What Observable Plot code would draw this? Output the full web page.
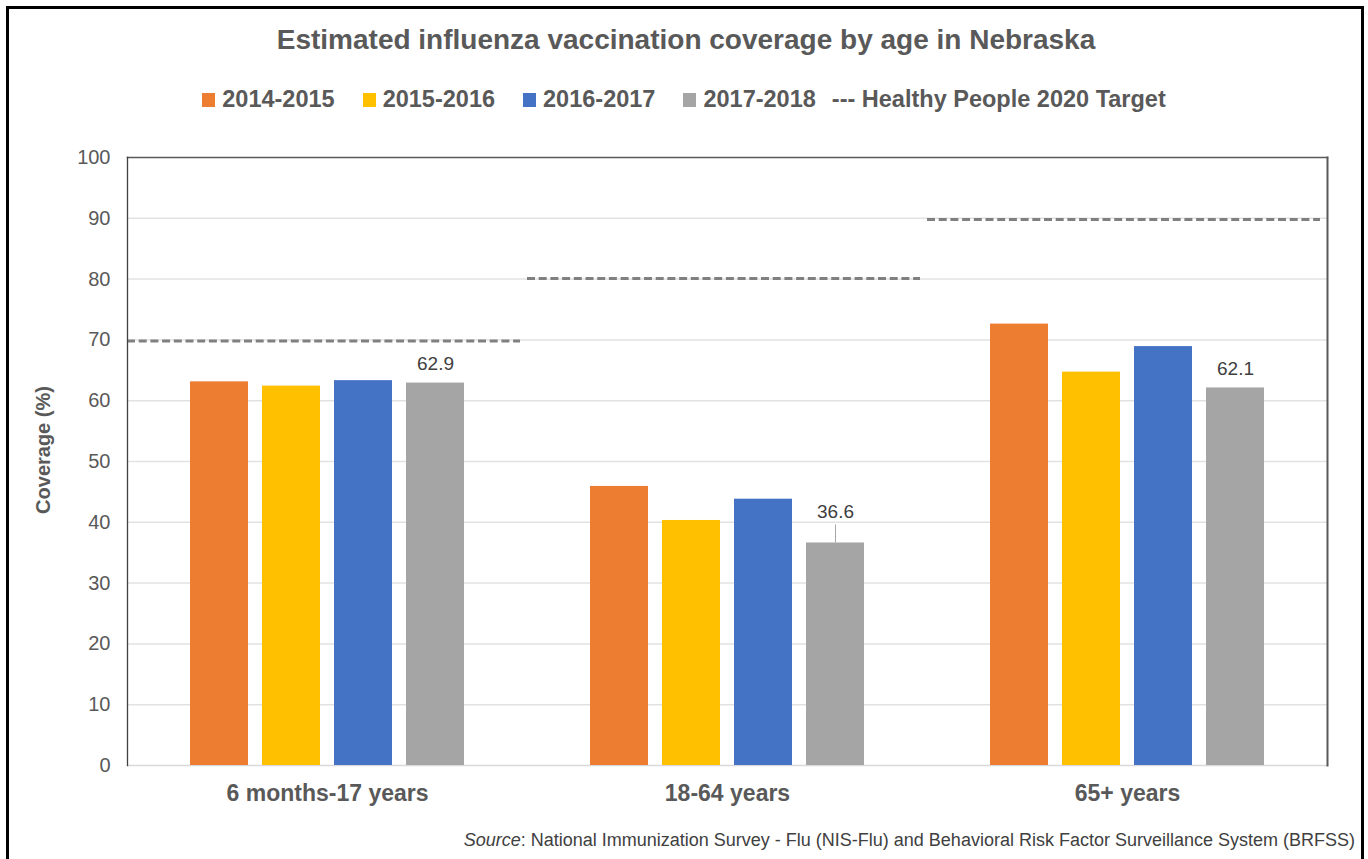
<!DOCTYPE html>
<html>
<head>
<meta charset="utf-8">
<script src="https://cdn.jsdelivr.net/npm/d3@7"></script>
<script src="https://cdn.jsdelivr.net/npm/@observablehq/plot@0.6"></script>
<style>
  html, body { margin: 0; padding: 0; background: #fff; overflow: hidden; width: 1368px; height: 859px; }
  body { font-family: Arial, "Liberation Sans", sans-serif; position: relative; }
  #border { position: absolute; left: 6px; top: 6px; width: 1358px; height: 900px; border: 3px solid #000; box-sizing: border-box; }
  #chart { position: absolute; left: 0; top: 0; }
  #title { position: absolute; left: 0; width: 1372px; top: 26px; text-align: center; font-size: 28px; line-height: 1; font-weight: bold; color: #595959; }
  #legend { position: absolute; left: 0; width: 1368px; top: 88px; display: flex; justify-content: center; align-items: center; font-size: 23.5px; line-height: 1; font-weight: bold; color: #595959; }
  .item { display: flex; align-items: center; margin: 0 14px; }
  .sw { width: 13px; height: 14px; margin-right: 7px; }
  #ylabel { position: absolute; left: 43px; top: 450px; transform: translate(-50%, -50%) rotate(-90deg); font-size: 20px; font-weight: bold; color: #595959; white-space: nowrap; line-height: 1; }
  #caption { position: absolute; right: 13px; top: 831px; font-size: 18px; line-height: 1; color: #404040; white-space: nowrap; }
</style>
</head>
<body>
<div id="border"></div>
<div id="chart"></div>
<div id="title"></div>
<div id="legend"></div>
<div id="ylabel"></div>
<div id="caption"></div>
<script>
// ---- data ----
const groups = ["6 months-17 years", "18-64 years", "65+ years"];
const seasons = ["2014-2015", "2015-2016", "2016-2017", "2017-2018"];
const v2014_2015 = [63.1, 45.9, 72.6];
const v2015_2016 = [62.4, 40.3, 64.7];
const v2016_2017 = [63.3, 43.8, 68.9];
const v2017_2018 = [62.9, 36.6, 62.1];
const targets = [69.8, 80.1, 89.8];
const seasonColors = ["#ED7D31", "#FFC000", "#4472C4", "#A5A5A5"];
const yTicks = [0, 10, 20, 30, 40, 50, 60, 70, 80, 90, 100];
const titleText = "Estimated influenza vaccination coverage by age in Nebraska";
const targetLabel = "--- Healthy People 2020 Target";
const yLabel = "Coverage (%)";
const sourceText = ": National Immunization Survey - Flu (NIS-Flu) and Behavioral Risk Factor Surveillance System (BRFSS)";

// ---- build tables ----
const seriesValues = [v2014_2015, v2015_2016, v2016_2017, v2017_2018];
const rows = [];
groups.forEach((g, gi) => seasons.forEach((s, si) => rows.push({group: g, season: s, value: seriesValues[si][gi]})));
const targetRows = groups.map((g, i) => ({group: g, value: targets[i]}));
const labeled = rows.filter(d => d.season === "2017-2018");
const labelNormal = labeled.filter(d => d.group !== "18-64 years");
const labelCallout = labeled.filter(d => d.group === "18-64 years");

// ---- html text ----
document.getElementById("title").textContent = titleText;
const legend = document.getElementById("legend");
seasons.forEach((s, i) => {
  const it = document.createElement("div"); it.className = "item";
  const sw = document.createElement("div"); sw.className = "sw"; sw.style.background = seasonColors[i];
  const tx = document.createElement("span"); tx.textContent = s;
  it.append(sw, tx); legend.append(it);
});
const tItem = document.createElement("div"); tItem.className = "item"; tItem.style.marginLeft = "2px";
tItem.textContent = targetLabel; legend.append(tItem);
document.getElementById("ylabel").textContent = yLabel;
const cap = document.getElementById("caption");
const em = document.createElement("i"); em.textContent = "Source";
cap.append(em, document.createTextNode(sourceText));

// ---- chart ----
const chart = Plot.plot({
  width: 1368,
  height: 820,
  marginLeft: 127,
  marginRight: 41,
  marginTop: 157,
  marginBottom: 55,
  style: {fontFamily: "Arial, 'Liberation Sans', sans-serif", background: "transparent"},
  fx: {domain: groups, padding: 0, axis: null},
  x: {domain: seasons, paddingInner: 0.2, paddingOuter: 0.85, axis: null},
  y: {domain: [0, 100], axis: null},
  color: {domain: seasons, range: seasonColors},
  marks: [
    Plot.gridY(yTicks.filter(t => t > 0 && t < 100), {stroke: "#e2e2e2", strokeOpacity: 1, strokeWidth: 1.5}),
    Plot.ruleY([0], {stroke: "#d9d9d9", strokeWidth: 1.5}),
    Plot.barY(rows, {fx: "group", x: "season", y: "value", fill: "season"}),
    Plot.ruleY(targetRows, {fx: "group", y: "value", stroke: "#808080", strokeWidth: 3, strokeDasharray: "8,3.7", insetRight: 7}),
    Plot.text(labelNormal, {fx: "group", x: "season", y: "value", text: d => d.value.toFixed(1), dy: -19, fontSize: 19, fill: "#404040"}),
    Plot.text(labelCallout, {fx: "group", x: "season", y: "value", text: d => d.value.toFixed(1), dy: -31, fontSize: 19, fill: "#404040"}),
    Plot.ruleX(labelCallout, {fx: "group", x: "season", y1: "value", y2: "value", insetTop: -18, stroke: "#a6a6a6", strokeWidth: 1}),
    Plot.frame({facet: "super", anchor: "top", stroke: "#595959", strokeWidth: 1.5}),
    Plot.frame({facet: "super", anchor: "right", stroke: "#595959", strokeWidth: 2}),
    Plot.frame({facet: "super", anchor: "left", stroke: "#404040", strokeWidth: 1.3}),
    Plot.axisY({ticks: yTicks, tickSize: 0, tickPadding: 17, fontSize: 20, color: "#595959", label: null}),
    Plot.axisFx({anchor: "bottom", label: null, tickSize: 0, tickPadding: 19, fontSize: 23, fontWeight: "bold", color: "#595959"})
  ]
});
document.getElementById("chart").append(chart);
</script>
</body>
</html>
